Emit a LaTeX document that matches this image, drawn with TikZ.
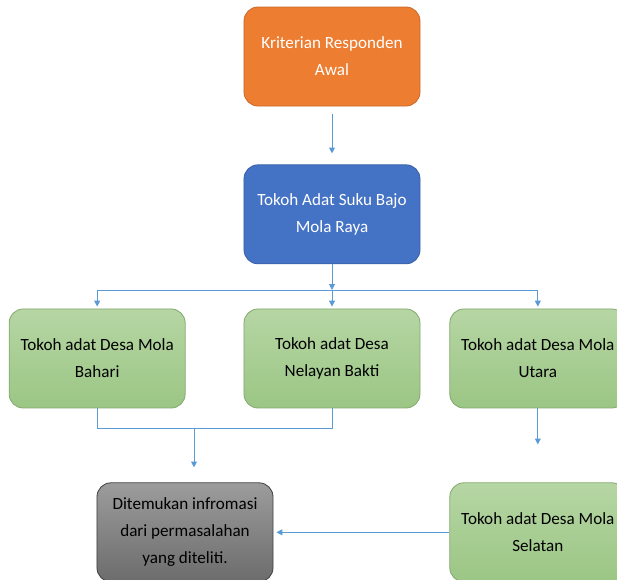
\documentclass[tikz,border=0pt]{standalone}
\usepackage{fontspec}
\setmainfont{Carlito}
\usetikzlibrary{positioning, arrows.meta}
\definecolor{oranye}{HTML}{ED7D31}
\definecolor{biru}{HTML}{4472C4}
\definecolor{hijauA}{HTML}{B6D6A4}
\definecolor{hijauB}{HTML}{9BC684}
\definecolor{abuA}{HTML}{9C9C9C}
\definecolor{abuB}{HTML}{6C6C6C}
\definecolor{garisbiru}{HTML}{5B9BD5}
\tikzset{
	x=0.03cm, y=-0.03cm, % satuan piksel gambar
	kotak/.style={rounded corners=0.42cm, minimum width=5.28cm, minimum height=2.97cm,
		align=center, font={\fontsize{14.6}{23}\selectfont}, line width=0.7pt}, % kotak dasar
	oranyebox/.style={kotak, fill=oranye, draw=oranye!85!black, text=white},
	birubox/.style={kotak, fill=biru, draw=biru!85!black, text=white},
	hijaubox/.style={kotak, top color=hijauA, bottom color=hijauB, draw=hijauB!85!black},
	abubox/.style={kotak, top color=abuA, bottom color=abuB, draw=black!75},
	garis/.style={draw=garisbiru, line width=0.85pt}, % garis penghubung
	panah/.style={garis, -{Triangle[width=5pt,length=5pt]}} % garis dengan panah
}

\begin{document}
\begin{tikzpicture}
	\path[use as bounding box, clip] (0,0) rectangle (617,579);
	\node[oranyebox] (kriteria) at (332,56.5) {Kriterian Responden\\Awal};
	\node[birubox, below=1.74cm of kriteria] (tokoh) {Tokoh Adat Suku Bajo\\Mola Raya};
	\node[hijaubox, below=1.33cm of tokoh] (nelayan) {Tokoh adat Desa\\Nelayan Bakti};
	\node[hijaubox, left=1.74cm of nelayan] (bahari) {Tokoh adat Desa Mola\\Bahari};
	\node[hijaubox, right=0.87cm of nelayan] (utara) {Tokoh adat Desa Mola\\Utara};
	\node[hijaubox, below=2.22cm of utara] (selatan) {Tokoh adat Desa Mola\\Selatan};
	\node[abubox, left=5.28cm of selatan] (temuan) {Ditemukan infromasi\\dari permasalahan\\yang diteliti.};

	\coordinate (cabang) at (332,290);
	\coordinate (kiri) at (bahari.north |- cabang);
	\coordinate (kanan) at (utara.north |- cabang);
	\coordinate (gabung) at (194,428);

	\draw[panah, shorten <=0.24cm, shorten >=0.33cm] (kriteria) -- (tokoh);
	\draw[panah] (tokoh) -- (cabang);
	\draw[garis] (kiri) -- (kanan);
	\draw[panah, shorten >=0.06cm] (kiri) -- (bahari);
	\draw[panah, shorten >=0.06cm] (cabang) -- (nelayan);
	\draw[panah, shorten >=0.06cm] (kanan) -- (utara);
	\draw[garis] (bahari.south) -- (bahari.south |- gabung) -| (nelayan.south);
	\draw[panah, shorten >=0.45cm] (gabung) -- (gabung |- temuan.north);
	\draw[panah, shorten >=1.14cm] (utara) -- (selatan);
	\draw[panah, shorten >=0.09cm] (selatan) -- (temuan);
\end{tikzpicture}
\end{document}
